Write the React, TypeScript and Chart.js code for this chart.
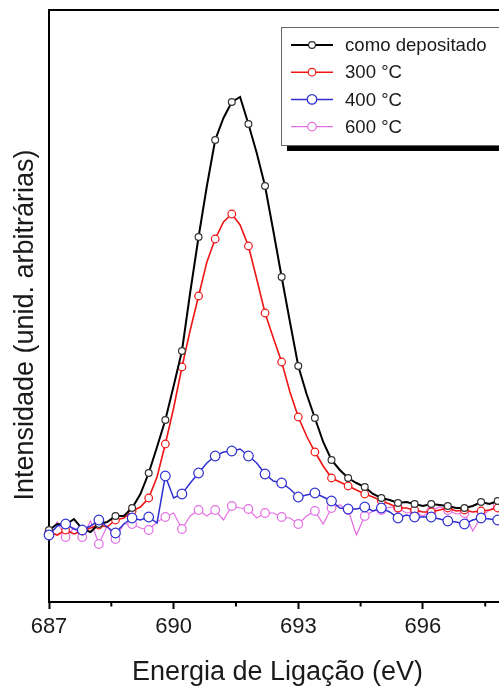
import React, { useEffect, useRef } from 'react';
import { Chart, registerables } from 'chart.js';

Chart.register(...registerables);

// Binding energy (eV)
const energies = [
  687.0, 687.2, 687.4, 687.6, 687.8, 688.0, 688.2, 688.4, 688.6, 688.8,
  689.0, 689.2, 689.4, 689.6, 689.8, 690.0, 690.2, 690.4, 690.6, 690.8,
  691.0, 691.2, 691.4, 691.6, 691.8, 692.0, 692.2, 692.4, 692.6, 692.8,
  693.0, 693.2, 693.4, 693.6, 693.8, 694.0, 694.2, 694.4, 694.6, 694.8,
  695.0, 695.2, 695.4, 695.6, 695.8, 696.0, 696.2, 696.4, 696.6, 696.8,
  697.0, 697.2, 697.4, 697.6, 697.8, 698.0,
];

// Intensities (arbitrary units)
const comoDepositado = [
  72, 78, 77, 83, 73, 70, 78, 80, 86, 86,
  94, 108, 129, 155, 182, 216, 251, 310, 365, 416,
  462, 484, 500, 505, 478, 449, 416, 371, 325, 280,
  236, 208, 184, 160, 142, 132, 124, 119, 115, 108,
  104, 102, 99, 100, 98, 96, 98, 97, 96, 94,
  94, 96, 100, 98, 101, 100,
];
const t300 = [
  70, 67, 72, 68, 71, 74, 77, 75, 82, 84,
  91, 95, 104, 125, 158, 194, 235, 272, 306, 340,
  363, 380, 388, 377, 356, 323, 289, 264, 240, 210,
  185, 166, 150, 136, 124, 120, 116, 112, 108, 105,
  101, 98, 94, 94, 92, 90, 90, 92, 94, 91,
  92, 90, 91, 92, 94, 93,
];
const t400 = [
  67, 76, 78, 73, 72, 76, 82, 75, 69, 78,
  84, 82, 85, 79, 126, 104, 108, 119, 129, 139,
  146, 150, 151, 153, 146, 139, 128, 121, 119, 113,
  105, 107, 109, 105, 101, 94, 93, 93, 95, 91,
  94, 90, 84, 87, 85, 85, 85, 83, 81, 80,
  78, 82, 84, 83, 82, 81,
];
const t600 = [
  69, 80, 65, 74, 65, 81, 58, 76, 63, 78,
  78, 74, 72, 80, 85, 89, 73, 86, 92, 86,
  92, 82, 96, 94, 93, 84, 89, 89, 85, 84,
  78, 86, 91, 78, 94, 97, 92, 67, 86, 91,
  92, 95, 94, 89, 90, 86, 91, 95, 92, 88,
  89, 71, 85, 92, 97, 96,
];

const seriesLabels = ['como depositado', '300 °C', '400 °C', '600 °C'];
const xTicks = [687, 690, 693, 696];
const minorTicks = [688.5, 691.5, 694.5, 697.5];
const xTitle = 'Energia de Ligação (eV)';
const yTitle = 'Intensidade (unid. arbitrárias)';

const FONT = 'Arial, "Liberation Sans", sans-serif';

const styles = [
  { color: '#000000', marker: '#333333', width: 2, radius: 3.4 },
  { color: '#f01414', marker: '#f01414', width: 1.6, radius: 3.8 },
  { color: '#2f2fd2', marker: '#2f2fd2', width: 1.5, radius: 4.8 },
  { color: '#e46ee4', marker: '#e46ee4', width: 1.2, radius: 4.3 },
];

const decorPlugin = {
  id: 'decor',
  afterDraw(chart: any) {
    const { ctx, chartArea, scales } = chart;
    const xs = scales.x;
    ctx.save();
    // frame (top and right)
    ctx.strokeStyle = '#000';
    ctx.lineWidth = 2;
    ctx.beginPath();
    ctx.moveTo(chartArea.left - 1, chartArea.top);
    ctx.lineTo(chartArea.right, chartArea.top);
    ctx.lineTo(chartArea.right, chartArea.bottom);
    ctx.stroke();
    // minor ticks
    ctx.beginPath();
    minorTicks.forEach((v) => {
      const px = xs.getPixelForValue(v);
      ctx.moveTo(px, chartArea.bottom);
      ctx.lineTo(px, chartArea.bottom + 4.5);
    });
    ctx.stroke();
    // axis titles
    ctx.fillStyle = '#1a1a1a';
    ctx.font = `27px ${FONT}`;
    ctx.textAlign = 'center';
    ctx.textBaseline = 'alphabetic';
    ctx.fillText(xTitle, (chartArea.left + chartArea.right) / 2, 680);
    ctx.save();
    ctx.translate(33, 325);
    ctx.rotate(-Math.PI / 2);
    ctx.fillText(yTitle, 0, 0);
    ctx.restore();
    // legend
    const L = { x: 281, y: 27, w: 250, h: 118 };
    ctx.fillStyle = '#000';
    ctx.fillRect(L.x + 6, L.y + L.h, L.w, 6);
    ctx.fillRect(L.x + L.w, L.y + 6, 6, L.h);
    ctx.fillStyle = '#fff';
    ctx.fillRect(L.x, L.y, L.w, L.h);
    ctx.strokeStyle = '#666';
    ctx.lineWidth = 1;
    ctx.strokeRect(L.x + 0.5, L.y + 0.5, L.w, L.h);
    seriesLabels.forEach((label, i) => {
      const s = styles[i];
      const cy = 45 + i * 27.2;
      ctx.strokeStyle = s.color;
      ctx.lineWidth = s.width;
      ctx.beginPath();
      ctx.moveTo(291, cy);
      ctx.lineTo(333, cy);
      ctx.stroke();
      ctx.beginPath();
      ctx.arc(312, cy, s.radius, 0, Math.PI * 2);
      ctx.fillStyle = '#fff';
      ctx.fill();
      ctx.strokeStyle = s.marker;
      ctx.lineWidth = 1.2;
      ctx.stroke();
      ctx.fillStyle = '#1a1a1a';
      ctx.font = `18.6px ${FONT}`;
      ctx.textAlign = 'left';
      ctx.textBaseline = 'middle';
      ctx.fillText(label, 345, cy + 1);
    });
    ctx.restore();
  },
};

export default function App() {
  const ref = useRef<HTMLCanvasElement>(null);
  useEffect(() => {
    if (!ref.current) return;
    const all = [comoDepositado, t300, t400, t600];
    const orders = [1, 2, 0, 3];
    const chart = new Chart(ref.current, {
      type: 'line',
      data: {
        datasets: all.map((arr, i) => ({
          label: seriesLabels[i],
          data: energies.map((x, j) => ({ x, y: arr[j] })),
          borderColor: styles[i].color,
          borderWidth: styles[i].width,
          pointBackgroundColor: '#ffffff',
          pointBorderColor: styles[i].marker,
          pointBorderWidth: 1.2,
          pointRadius: (c: any) => (c.dataIndex % 2 === 0 ? styles[i].radius : 0),
          pointHoverRadius: 0,
          tension: 0,
          fill: false,
          clip: false as any,
          order: orders[i],
        })),
      },
      options: {
        animation: false,
        responsive: false,
        events: [],
        layout: { padding: { left: 0, top: 10, right: 34, bottom: 0 } },
        plugins: { legend: { display: false }, tooltip: { enabled: false } },
        scales: {
          x: {
            type: 'linear',
            min: 687,
            max: 698,
            afterBuildTicks: (s: any) => {
              s.ticks = xTicks.map((v) => ({ value: v }));
            },
            afterFit: (s: any) => {
              s.height = 85;
            },
            ticks: {
              font: { family: FONT, size: 22 },
              color: '#1a1a1a',
              padding: 5,
              maxRotation: 0,
              callback: (v: any) => String(v),
            },
            grid: {
              drawOnChartArea: false,
              drawTicks: true,
              tickLength: 7,
              tickWidth: 2,
              tickColor: '#000',
            },
            border: { display: true, color: '#000', width: 2 },
          },
          y: {
            type: 'linear',
            min: 0,
            max: 592,
            afterFit: (s: any) => {
              s.width = 49;
            },
            ticks: { display: false },
            grid: { display: false, drawTicks: false },
            border: { display: true, color: '#000', width: 2 },
          },
        },
      },
      plugins: [decorPlugin],
    });
    return () => chart.destroy();
  }, []);
  return (
    <div
      style={{
        position: 'fixed',
        left: 0,
        top: 0,
        width: 499,
        height: 687,
        overflow: 'hidden',
        background: '#fff',
      }}
    >
      <canvas ref={ref} width={540} height={687} style={{ width: 540, height: 687, display: 'block' }} />
    </div>
  );
}
